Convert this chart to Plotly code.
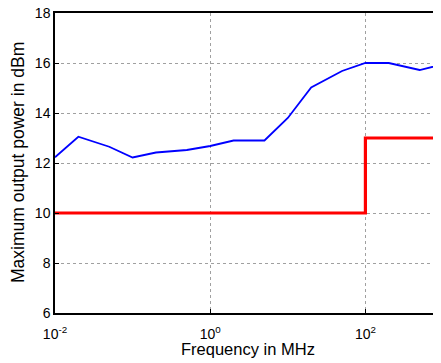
import plotly.graph_objects as go

freq_blue = [0.01, 0.02, 0.05, 0.1, 0.2, 0.5, 1, 2, 5, 10, 20, 50, 100, 200, 500, 1000]
power_blue = [12.23, 13.05, 12.65, 12.22, 12.42, 12.52, 12.68, 12.9, 12.9, 13.8, 15.02, 15.68, 16.0, 16.0, 15.72, 15.95]

freq_red = [0.01, 100, 100, 1000]
power_red = [10, 10, 13, 13]

x_tickvals = [0.01, 1, 100]
x_ticktext = ["10<sup>-2</sup>", "10<sup>0</sup>", "10<sup>2</sup>"]
y_tickvals = [6, 8, 10, 12, 14, 16, 18]

fig = go.Figure()
fig.add_trace(go.Scatter(x=freq_blue, y=power_blue, mode="lines",
                         line=dict(color="#0000ff", width=1.8), showlegend=False))
fig.add_trace(go.Scatter(x=freq_red, y=power_red, mode="lines",
                         line=dict(color="#ff0000", width=3.2), showlegend=False))

fam = "Liberation Sans, Arial, sans-serif"
# the page body has an 8px margin, so the figure is sized to fit the window
fig.update_layout(
    width=433, height=355,
    margin=dict(l=47, r=0, t=5, b=50),
    paper_bgcolor="white", plot_bgcolor="white",
    font=dict(family=fam, size=14, color="#000"),
    xaxis=dict(type="log", range=[-2, 2.974], automargin=False,
               tickvals=x_tickvals, ticktext=x_ticktext, ticklabelstandoff=7,
               ticklabeloverflow="allow",
               showgrid=True, gridcolor="#a0a0a0", griddash="dot", gridwidth=1,
               showline=True, linecolor="black", linewidth=1.5, mirror=True,
               ticks="inside", ticklen=4, tickcolor="black",
               zeroline=False),
    yaxis=dict(range=[6, 18], tickvals=y_tickvals, automargin=False,
               ticklabeloverflow="allow",
               showgrid=True, gridcolor="#a0a0a0", griddash="dot", gridwidth=1,
               showline=True, linecolor="black", linewidth=1.5, mirror=False,
               ticks="inside", ticklen=4, tickcolor="black",
               zeroline=False),
    annotations=[
        dict(text="Frequency in MHz", xref="paper", yref="paper", x=0.5, y=0,
             xanchor="center", yanchor="middle", yshift=-36, showarrow=False,
             font=dict(family=fam, size=16.5)),
        dict(text="Maximum output power in dBm", xref="paper", yref="paper", x=0, y=0.5,
             xanchor="center", yanchor="middle", xshift=-37, textangle=-90, showarrow=False,
             font=dict(family=fam, size=17.5)),
    ],
)
fig.write_html("out.html")
